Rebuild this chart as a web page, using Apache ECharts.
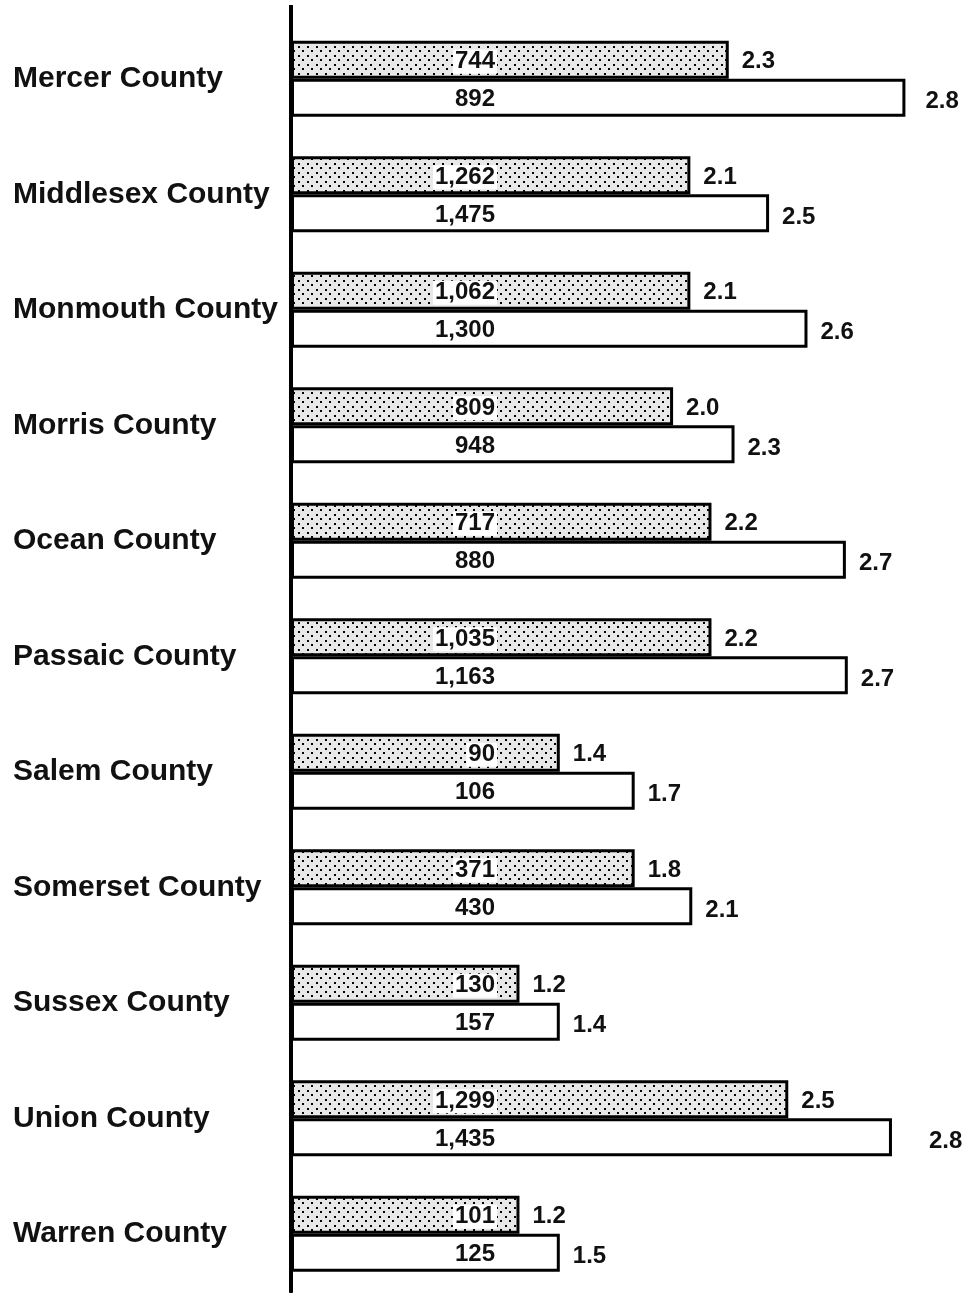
<!DOCTYPE html>
<html>
<head>
<meta charset="utf-8">
<script src="https://cdn.jsdelivr.net/npm/echarts@6/dist/echarts.min.js"></script>
<style>
  html, body { margin: 0; padding: 0; background: #fff; }
  #main { width: 968px; height: 1293px; }
</style>
</head>
<body>
<div id="main"></div>
<script>
// counties, top to bottom
var counties = ['Mercer County', 'Middlesex County', 'Monmouth County', 'Morris County',
    'Ocean County', 'Passaic County', 'Salem County', 'Somerset County',
    'Sussex County', 'Union County', 'Warren County'];

// dotted bars: count shown inside, rate shown at the end
var countA = ['744', '1,262', '1,062', '809', '717', '1,035', '90', '371', '130', '1,299', '101'];
var rateA = ['2.3', '2.1', '2.1', '2.0', '2.2', '2.2', '1.4', '1.8', '1.2', '2.5', '1.2'];
// bar length as drawn (in rate units)
var lenA = [2.28, 2.08, 2.08, 1.99, 2.19, 2.19, 1.40, 1.79, 1.19, 2.59, 1.19];

// white bars
var countB = ['892', '1,475', '1,300', '948', '880', '1,163', '106', '430', '157', '1,435', '125'];
var rateB = ['2.8', '2.5', '2.6', '2.3', '2.7', '2.7', '1.7', '2.1', '1.4', '2.8', '1.5'];
var lenB = [3.20, 2.49, 2.69, 2.31, 2.89, 2.90, 1.79, 2.09, 1.40, 3.13, 1.40];

var fontFam = '"Liberation Sans", Arial, Helvetica, sans-serif';

// 点状填充
function makeDots() {
    var c = document.createElement('canvas');
    c.width = 9;
    c.height = 9;
    var ctx = c.getContext('2d');
    ctx.fillStyle = '#e8e8e8';
    ctx.fillRect(0, 0, 9, 9);
    ctx.fillStyle = '#000';
    ctx.fillRect(1, 1, 2, 2);
    ctx.fillRect(5, 5, 2, 2);
    return c;
}
var dots = makeDots();

// rate label gap for the white bars (a couple sit farther out)
var gapB = {0: 20, 9: 37};

var chart = echarts.init(document.getElementById('main'));

function countSeries(lens, counts, fill) {
    return {
        type: 'bar',
        yAxisIndex: 0,
        barWidth: 38,
        barGap: '0%',
        data: lens,
        itemStyle: {
            color: fill,
            borderColor: '#000',
            borderWidth: 3
        },
        label: {
            show: true,
            position: [206, '50%'],
            align: 'right',
            verticalAlign: 'middle',
            offset: [0, 2],
            formatter: function (p) { return counts[p.dataIndex]; },
            color: '#111',
            fontFamily: fontFam,
            fontWeight: 'bold',
            fontSize: 24,
            backgroundColor: '#fff',
            padding: [0, 2]
        }
    };
}

// transparent copy on a hidden axis, only there to carry the rate text
function rateSeries(lens, rates, gaps, dy) {
    return {
        type: 'bar',
        yAxisIndex: 1,
        barWidth: 38,
        barGap: '0%',
        silent: true,
        z: 5,
        itemStyle: { color: 'rgba(0,0,0,0)', borderWidth: 0 },
        data: lens.map(function (v, i) {
            return {
                value: v,
                label: {
                    show: true,
                    position: 'right',
                    distance: (gaps && gaps[i]) || 13,
                    offset: [0, dy],
                    formatter: rates[i],
                    color: '#111',
                    fontFamily: fontFam,
                    fontWeight: 'bold',
                    fontSize: 24
                }
            };
        })
    };
}

var option = {
    animation: false,
    backgroundColor: '#fff',
    grid: { left: 291, right: 5, top: 21, bottom: 1.5 },
    xAxis: {
        type: 'value',
        min: 0,
        max: 3.5,
        show: false
    },
    yAxis: [{
        type: 'category',
        data: counties,
        inverse: true,
        axisLine: { show: true, lineStyle: { color: '#000', width: 4 } },
        axisTick: { show: false },
        axisLabel: {
            align: 'left',
            margin: 278,
            color: '#111',
            fontFamily: fontFam,
            fontWeight: 'bold',
            fontSize: 30
        },
        splitLine: { show: false },
        z: 10
    }, {
        type: 'category',
        data: counties,
        inverse: true,
        position: 'left',
        show: false
    }],
    graphic: [{
        type: 'line',
        shape: { x1: 291, y1: 5, x2: 291, y2: 23 },
        style: { stroke: '#000', lineWidth: 4 }
    }],
    series: [
        countSeries(lenA, countA, { image: dots, repeat: 'repeat' }),
        countSeries(lenB, countB, '#fff'),
        rateSeries(lenA, rateA, null, 2),
        rateSeries(lenB, rateB, gapB, 4)
    ]
};

chart.setOption(option);
</script>
</body>
</html>
